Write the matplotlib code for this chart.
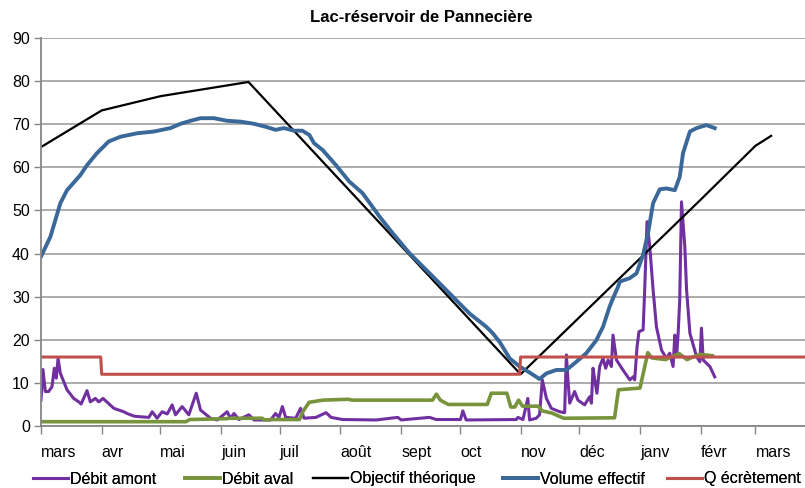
import pandas as pd
import matplotlib.pyplot as plt

# jours comptés depuis le 1er mars
debut = pd.Timestamp('2010-03-01')

j_amont = [0, 1.0, 2.2, 3.9, 5.6, 6.8, 7.8, 8.7, 9.9, 13.3, 16.7, 19.3, 20.5, 23.5, 25.2, 27.8,
           29.5, 31.7, 37.2, 42.3, 44, 47.4, 49.1, 55.1, 56.8, 59.3, 61.9, 64.5, 67, 68.7, 72.1,
           75.5, 79.3, 81.5, 86.6, 90, 95.1, 96.8, 98.6, 101.1, 106.2, 108.8, 117.3, 119.8, 121.6,
           123.3, 125, 130.1, 132.6, 134.4, 140.5, 145.6, 148.2, 154.1, 171.2, 182.3, 184, 198.5,
           201.9, 214.3, 215.5, 217.2, 242.8, 243.6, 246.2, 248.7, 249.6, 253, 254.7, 256.1, 258.2,
           260.7, 265, 267.5, 268.4, 269.2, 270.1, 272.6, 274.3, 277.7, 280.3, 281.2, 282, 282.9,
           284, 285.4, 287.1, 288.5, 289.7, 291.4, 292.2, 294, 297.3, 300.8, 302.5, 303.3, 304.5,
           305.5, 307.6, 308.4, 309.6, 311, 312.7, 314.4, 317, 319.5, 321.2, 322.9, 323.8, 324.7,
           325.5, 326.3, 327.2, 328.9, 329.8, 331.5, 334.9, 336.6, 337.4, 338.3, 341.7, 344.2]
debit_amont = [6.0, 13.1, 8.0, 8.0, 9.1, 13.4, 11.1, 15.7, 12.2, 8.4, 6.4, 5.6, 5.1, 8.2, 5.6, 6.4,
               5.6, 6.4, 4.1, 3.3, 2.9, 2.3, 2.2, 2.0, 3.3, 1.8, 3.3, 2.8, 4.9, 2.6, 4.5,
               2.6, 7.6, 3.7, 1.8, 1.4, 3.3, 1.8, 2.9, 1.5, 2.6, 1.4, 1.4, 2.9, 2.0,
               4.5, 2.0, 1.8, 4.1, 1.8, 2.0, 3.1, 2.0, 1.5, 1.4, 2.0, 1.4, 2.0,
               1.5, 1.5, 3.5, 1.4, 1.5, 2.0, 1.5, 6.4, 1.4, 1.8, 2.6, 10.7, 6.4,
               4.1, 3.3, 3.1, 16.5, 10.7, 5.3, 8.0, 6.0, 4.9, 6.8, 5.3, 13.4, 10.7,
               7.6, 13.8, 15.7, 13.4, 15.3, 13.8, 21.1, 15.3, 13.0, 10.7, 11.4, 10.7, 18.4,
               21.9, 22.3, 31.6, 47.4, 41.6, 31.6, 23.0, 17.6, 15.7, 16.9, 13.8, 21.1, 16.1,
               21.5, 29.2, 52.0, 41.6, 31.6, 21.5, 16.1, 14.9, 22.7, 15.3, 13.8, 11.4]

j_aval = [0, 74, 76, 95, 96, 113, 114, 118, 132, 134, 137, 144, 157, 159, 183, 200, 202, 204,
          208, 228, 230, 238, 240, 242, 244, 246, 254, 256, 261, 267, 293, 295, 306, 310, 312,
          319, 326, 330, 333, 337, 343]
debit_aval = [1.0, 1.0, 1.5, 1.7, 1.8, 1.8, 1.4, 1.5, 1.5, 3.5, 5.5, 6.0, 6.2, 6.0, 6.0, 6.0, 7.4, 6.0,
              5.0, 5.0, 7.6, 7.6, 4.4, 4.4, 6.0, 4.6, 4.6, 3.5, 3.0, 1.8, 1.9, 8.4, 8.8, 17.0, 15.8,
              15.4, 16.8, 15.4, 16.0, 16.6, 16.3]

j_objectif = [0, 31, 61, 106, 245, 337, 365, 373]
objectif = [64.7, 73.2, 76.5, 79.8, 12.0, 52.5, 65.0, 67.3]

j_volume = [0, 4.8, 9.9, 13.3, 20.1, 23.5, 28.6, 34.6, 40.6, 49.1, 57.6, 66.1, 71.3, 76.4, 81.5,
            88.3, 95.1, 101.9, 108.8, 115.6, 119.8, 124.1, 129.3, 133.5, 137.1, 139.5, 143.9,
            150.7, 157.5, 164.3, 172.9, 179.7, 188.2, 196.8, 203.6, 212.1, 218.9, 227.5, 230.8,
            234.3, 239.4, 244.5, 249.6, 254.7, 258.2, 263.3, 268.4, 273.5, 278.6, 283.7, 287.1,
            290.5, 292.2, 294.8, 295.7, 300.8, 304.2, 307.6, 310.1, 312.7, 316.1, 319.5, 323.8,
            326.3, 328, 331.5, 334.9, 340, 344.2]
volume = [39.3, 43.9, 51.7, 54.7, 58.2, 60.5, 63.3, 66.0, 67.1, 67.9, 68.3, 69.1, 70.1, 70.8, 71.4,
          71.4, 70.8, 70.6, 70.1, 69.3, 68.7, 69.1, 68.5, 68.5, 67.5, 65.6, 64.0,
          60.5, 56.7, 54.0, 48.6, 44.7, 40.1, 36.2, 33.1, 29.2, 26.1, 23.0, 21.5,
          19.5, 15.7, 13.8, 12.4, 10.9, 12.2, 13.0, 13.0, 14.9, 16.9, 19.9, 23.0,
          27.7, 29.6, 32.3, 33.5, 34.3, 35.4, 39.7, 44.7, 51.7, 54.9, 55.1, 54.7,
          57.8, 63.3, 68.3, 69.1, 69.8, 69.1]

j_ecretement = [0, 30.5, 31, 244.5, 245, 391]
ecretement = [16, 16, 12, 12, 16, 16]

mois = ['mars', 'avr', 'mai', 'juin', 'juil', 'août', 'sept', 'oct', 'nov', 'déc',
        'janv', 'févr', 'mars']


def dates(jours):
    return debut + pd.to_timedelta(jours, unit='D')


plt.rcParams['font.family'] = ['Liberation Sans', 'DejaVu Sans']

fig = plt.figure(figsize=(8.05, 4.88), dpi=100)
ax = fig.add_axes([41 / 805, 1 - 426 / 488, 1 - 41 / 805, (426 - 38) / 488])

lignes = []
lignes += ax.plot(dates(j_amont), debit_amont, color='#7030A0', lw=2.2, label='Débit amont')
lignes += ax.plot(dates(j_aval), debit_aval, color='#77933C', lw=2.6, label='Débit aval')
lignes += ax.plot(dates(j_objectif), objectif, color='black', lw=1.6, label='Objectif théorique')
lignes += ax.plot(dates(j_volume), volume, color='#3A6898', lw=2.8, label='Volume effectif')
lignes += ax.plot(dates(j_ecretement), ecretement, color='#C0504D', lw=2.2, label='Q écrètement')

ax.set_ylim(0, 90)
ax.set_yticks(range(0, 91, 10))
ax.set_xlim(dates(0), dates(390.3))

debuts_mois = pd.date_range('2010-03-01', '2011-03-01', freq='MS')
ax.set_xticks(debuts_mois)
ax.set_xticklabels(mois, ha='left')
ax.tick_params(axis='x', length=6, color='#868686', width=1, labelsize=11.5, pad=8)
ax.tick_params(axis='y', length=5, color='#868686', width=1, labelsize=11.5, pad=3)

ax.grid(axis='y', color='#A6A6A6', lw=1.3)
ax.set_axisbelow(True)
for s in ['top', 'right']:
    ax.spines[s].set_visible(False)
for s in ['left', 'bottom']:
    ax.spines[s].set_color('#868686')
    ax.spines[s].set_linewidth(1.3)

fig.text(421 / 805, 1 - 18 / 488, 'Lac-réservoir de Pannecière', ha='center', va='center',
         fontsize=12, fontweight='bold')

# légende : une entrée par série, placée comme sur l'original
x_legende = [33, 185, 313, 503, 667]
for ligne, x0 in zip(lignes, x_legende):
    leg = fig.legend([ligne], [ligne.get_label()], loc='center left',
                     bbox_to_anchor=(x0 / 805, 1 - 479 / 488), frameon=False,
                     fontsize=11.5, handlelength=2.2, handletextpad=0.1,
                     borderpad=0, borderaxespad=0)
    fig.add_artist(leg)

fig.savefig('out.png', dpi=100)
